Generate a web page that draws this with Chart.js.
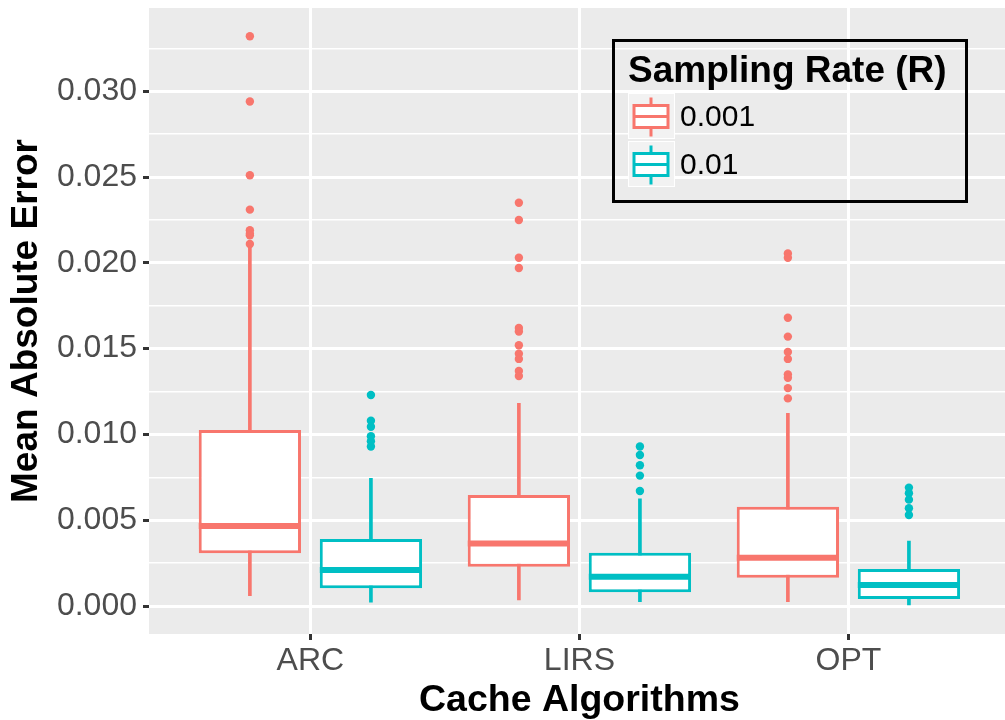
<!DOCTYPE html>
<html>
<head>
<meta charset="utf-8">
<script src="https://cdn.jsdelivr.net/npm/chart.js@4.4.1/dist/chart.umd.min.js"></script>
<style>
  html, body { margin: 0; padding: 0; background: #fff; overflow: hidden; }
  #wrap { width: 1014px; height: 720px; position: relative; }
</style>
</head>
<body>
<div id="wrap"><canvas id="plot"></canvas></div>
<script>
const categories = ['ARC', 'LIRS', 'OPT'];
const rateLabels = ['0.001', '0.01'];
const rateColors = ['#F8766D', '#00BFC4'];

const yTicks = [0, 0.005, 0.010, 0.015, 0.020, 0.025, 0.030];
const yTickLabels = ['0.000', '0.005', '0.010', '0.015', '0.020', '0.025', '0.030'];
const yMinor = [0.0025, 0.0075, 0.0125, 0.0175, 0.0225, 0.0275, 0.0325];

// R = 0.001
const lowR1 = [0.0006, 0.00035, 0.00025];
const q1R1 = [0.00307, 0.00229, 0.00165];
const medR1 = [0.00466, 0.00365, 0.00282];
const q3R1 = [0.01026, 0.00647, 0.00579];
const highR1 = [0.0209, 0.01181, 0.01123];
const outR1 = [
  [0.0332, 0.0294, 0.0251, 0.0231, 0.0219, 0.0217, 0.0216, 0.0211],
  [0.0235, 0.0225, 0.0203, 0.0197, 0.0162, 0.0160, 0.0152, 0.0147, 0.0144, 0.0137, 0.0134],
  [0.02055, 0.0203, 0.0168, 0.0157, 0.0148, 0.0144, 0.0135, 0.0133, 0.0127, 0.0121]
];

// R = 0.01
const lowR2 = [0.00022, 0.00025, 0.00006];
const q1R2 = [0.00103, 0.0008, 0.00041];
const medR2 = [0.0021, 0.00171, 0.00122];
const q3R2 = [0.0039, 0.00311, 0.00216];
const highR2 = [0.00744, 0.00624, 0.00379];
const outR2 = [
  [0.0123, 0.0108, 0.01045, 0.0099, 0.0096, 0.0093],
  [0.0093, 0.0088, 0.0082, 0.0076, 0.0067],
  [0.0069, 0.00657, 0.0062, 0.0057, 0.0053]
];

const dodge = [-0.225, 0.225];
const halfBox = 0.19;
const fontFamily = '"Liberation Sans", Arial, sans-serif';

Chart.defaults.font.family = fontFamily;

let makeBoxDatasets = (k, low, q1, med, q3, high, outs) => {
  let color = rateColors[k];
  let xs = categories.map((c, i) => i + 1 + dodge[k]);
  let medLine = [];
  xs.forEach((x, i) => {
    medLine.push({x: x - halfBox, y: med[i]}, {x: x + halfBox, y: med[i]}, {x: x, y: null});
  });
  let points = [];
  xs.forEach((x, i) => outs[i].forEach(v => points.push({x: x, y: v})));
  return [
    {
      type: 'bar', label: rateLabels[k] + ' whiskers',
      data: xs.map((x, i) => ({x: x, y: [low[i], high[i]]})),
      backgroundColor: color, borderWidth: 0, grouped: false,
      categoryPercentage: 1, barPercentage: 1, maxBarThickness: 3, order: 4
    },
    {
      type: 'bar', label: rateLabels[k],
      data: xs.map((x, i) => ({x: x, y: [q1[i], q3[i]]})),
      backgroundColor: '#ffffff', borderColor: color, borderWidth: 3, borderSkipped: false,
      grouped: false, categoryPercentage: 1, barPercentage: 0.845, order: 3
    },
    {
      type: 'line', label: rateLabels[k] + ' median', data: medLine,
      borderColor: color, borderWidth: 6, pointRadius: 0, spanGaps: false,
      borderCapStyle: 'butt', fill: false, order: 2
    },
    {
      type: 'scatter', label: rateLabels[k] + ' outliers', data: points,
      backgroundColor: color, borderWidth: 0, pointRadius: 4.2, order: 1
    }
  ];
};

const panelBg = {
  id: 'panelBg',
  beforeDraw(chart) {
    const {ctx, chartArea: a} = chart;
    ctx.save();
    ctx.fillStyle = '#ffffff';
    ctx.fillRect(0, 0, chart.width, chart.height);
    ctx.fillStyle = '#EBEBEB';
    ctx.fillRect(a.left, a.top, a.right - a.left, a.bottom - a.top);
    ctx.restore();
  }
};

// legend drawn inside the panel, like ggplot's legend.position
const boxLegend = {
  id: 'boxLegend',
  afterDraw(chart) {
    const ctx = chart.ctx;
    ctx.save();
    ctx.lineWidth = 3;
    ctx.strokeStyle = '#000';
    ctx.strokeRect(613.5, 40.5, 353, 161);
    ctx.fillStyle = '#000';
    ctx.font = 'bold 37px ' + fontFamily;
    ctx.textBaseline = 'alphabetic';
    ctx.fillText('Sampling Rate (R)', 628, 82);
    rateLabels.forEach((lab, k) => {
      const top = 93 + k * 48;
      ctx.fillStyle = '#F2F2F2';
      ctx.fillRect(628, top, 47, 46);
      ctx.strokeStyle = '#ffffff';
      ctx.lineWidth = 1;
      ctx.strokeRect(628.5, top + 0.5, 46, 45);
      const cx = 651, cy = top + 23.5;
      ctx.strokeStyle = rateColors[k];
      ctx.lineWidth = 3;
      ctx.beginPath(); ctx.moveTo(cx, cy - 19); ctx.lineTo(cx, cy + 20); ctx.stroke();
      ctx.fillStyle = '#ffffff';
      ctx.fillRect(cx - 17, cy - 11, 34, 22);
      ctx.strokeRect(cx - 17, cy - 11, 34, 22);
      ctx.beginPath(); ctx.moveTo(cx - 17, cy); ctx.lineTo(cx + 17, cy); ctx.stroke();
      ctx.fillStyle = '#000';
      ctx.font = '30px ' + fontFamily;
      ctx.textBaseline = 'middle';
      ctx.fillText(lab, 680, cy + 1.5);
    });
    ctx.restore();
  }
};

const isMajor = v => yTicks.indexOf(v) >= 0;

const datasets = [
  ...makeBoxDatasets(0, lowR1, q1R1, medR1, q3R1, highR1, outR1),
  ...makeBoxDatasets(1, lowR2, q1R2, medR2, q3R2, highR2, outR2)
];

new Chart(document.getElementById('plot'), {
  type: 'bar',
  data: { datasets: datasets },
  options: {
    responsive: true,
    maintainAspectRatio: false,
    animation: false,
    events: [],
    layout: { padding: { top: 8, left: 0, right: 0, bottom: 0 } },
    plugins: { legend: { display: false }, tooltip: { enabled: false } },
    scales: {
      x: {
        type: 'linear', min: 0.4, max: 3.6, offset: false,
        afterBuildTicks: s => { s.ticks = categories.map((c, i) => ({value: i + 1})); },
        afterFit: s => { s.height = 86; s.paddingLeft = 0; s.paddingRight = 0; },
        grid: { offset: false, color: '#ffffff', lineWidth: 3, tickLength: 6, tickColor: '#333333', tickWidth: 3 },
        border: { display: false },
        ticks: {
          callback: v => categories[v - 1],
          font: { size: 32 }, color: '#4D4D4D', padding: 2, maxRotation: 0, autoSkip: false
        },
        title: {
          display: true, text: 'Cache Algorithms', color: '#000',
          font: { size: 37.5, weight: 'bold', lineHeight: 1 }, padding: { top: 0, bottom: 1 }
        }
      },
      y: {
        min: -0.00163, max: 0.03485,
        afterBuildTicks: s => {
          s.ticks = yTicks.concat(yMinor).sort((a, b) => a - b).map(v => ({value: v}));
        },
        afterFit: s => { s.width = 149; s.paddingTop = 0; s.paddingBottom = 0; },
        grid: {
          color: '#ffffff',
          lineWidth: c => isMajor(c.tick.value) ? 3 : 1.5,
          tickLength: 6,
          tickWidth: 3,
          tickColor: c => isMajor(c.tick.value) ? '#333333' : 'rgba(0,0,0,0)'
        },
        border: { display: false },
        ticks: {
          callback: v => { const i = yTicks.indexOf(v); return i >= 0 ? yTickLabels[i] : ''; },
          font: { size: 32 }, color: '#4D4D4D', padding: 6, autoSkip: false
        },
        title: {
          display: true, text: 'Mean Absolute Error', color: '#000',
          font: { size: 37, weight: 'bold' }, padding: { top: 5, bottom: 0 }
        }
      }
    }
  },
  plugins: [panelBg, boxLegend]
});
</script>
</body>
</html>
